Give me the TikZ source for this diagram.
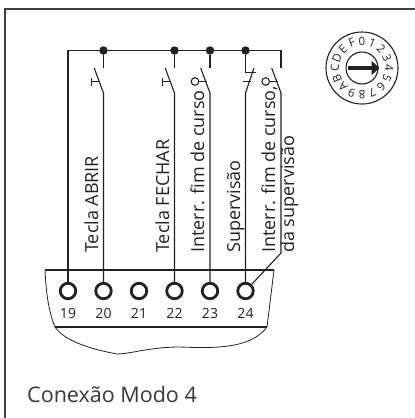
\documentclass[tikz,border=0pt]{standalone}
\usepackage{fontspec}
\setmainfont{Open Sans}
\usetikzlibrary{arrows.meta}
\definecolor{ink}{HTML}{222222}
\tikzset{
 x=1pt,y=-1pt,
 wire/.style={line width=1.1pt,draw=ink},
 strip/.style={line width=2.3pt,draw=ink},
 term/.style={circle,draw=ink,line width=2.8pt,minimum size=15.5pt,inner sep=0pt,fill=white},
 dot/.style={circle,fill=ink,minimum size=8.5pt,inner sep=0pt},
 tlabel/.style={font=\fontsize{14}{15}\selectfont,text=ink,inner sep=0pt},
 vlabel/.style={font=\fontsize{18}{19}\selectfont,text=ink,rotate=90,anchor=base west,inner sep=0pt},
 diallabel/.style={font=\fontsize{11.5}{12}\selectfont,text=ink,inner sep=0pt},
}
\begin{document}
\begin{tikzpicture}
\useasboundingbox (0,0) rectangle (415,418);
\draw[line width=1.4pt,draw=black!75] (5,418) -- (5,9) -- (415,9);
% terminals
\foreach \n/\x in {19/68,20/103.5,21/139,22/174.5,23/210,24/245.5}{
 \node[term] (t\n) at (\x,291) {};
 \node[tlabel] (n\n) at (\x,313) {\n};
}
% top bus
\coordinate (tl) at (68,50.5);
\coordinate (tr) at (281,50.5);
\node[dot] (d20) at (103.5,50.5) {};
\node[dot] (d22) at (174.5,50.5) {};
\node[dot] (d23) at (210,50.5) {};
\node[dot] (d24) at (245.5,50.5) {};
\draw[wire] (t19) -- (tl) -- (tr) -- (281,68);
\foreach \x/\n in {103.5/20,174.5/22,210/23}{
 \draw[wire] (d\n) -- (\x,68);
 \draw[wire] (\x-9.3,68) -- (\x,93) -- (t\n);
}
% push buttons
\foreach \x in {103.5,174.5}{
 \draw[wire] (\x-4.5,81.5) -- (\x-11.8,81.5);
 \draw[wire] (\x-11.8,77.5) -- (\x-11.8,85.5);
}
% limit switch on 23
\draw[wire] (207,81.5) -- (198.8,81.5);
\draw[wire] (195,81.5) circle (3.8);
% supervision (NC)
\draw[wire] (d24) -- (245.5,72.7) -- (256,72.7);
\draw[wire] (254,68) -- (245.5,93) -- (t24);
\draw[wire] (243,81.5) -- (250.5,81.5);
% limit switch of supervision
\draw[wire] (271.7,68) -- (281,93) -- (281,253) -- (t24);
\draw[wire] (277.5,81.5) -- (269.5,81.5);
\draw[wire] (265.7,81.5) circle (3.8);
% terminal strip
\draw[strip] (45,270) -- (274,270);
\draw[strip] (55,327) -- (267,327);
\draw[line width=0.8pt,draw=ink] (45,270) .. controls (46,290) and (48,310) .. (55,327)
  .. controls (65,342) and (95,350) .. (117,354) .. controls (130,354) and (150,347) .. (180,347)
  .. controls (210,348) and (250,350) .. (267,327) -- (274,270);
% labels
\node[vlabel] (l1) at (98,253) {Tecla ABRIR};
\node[vlabel] (l2) at (169,253) {Tecla FECHAR};
\node[vlabel] (l3) at (204,253) {Interr. fim de curso};
\node[vlabel] (l4) at (240,253) {Supervisão};
\node[vlabel] (l5) at (275,253) {Interr. fim de curso,};
\node[vlabel] (l6) at (294,253) {da supervisão};
% dial
\draw[wire] (362,68) circle (36);
\draw[wire] (362,68) circle (16);
\draw[line width=4.5pt,draw=ink,-{Triangle[length=8pt,width=14pt]}] (348,68) -- (379.5,68);
\foreach \c [count=\i from 0] in {0,1,2,3,4,5,6,7,8,9,A,B,C,D,E,F}{
 \pgfmathsetmacro\ang{90-22.5*\i}
 \node[diallabel,rotate=\ang-90] (c\i) at ({362+27*cos(\ang)},{68-27*sin(\ang)}) {\c};
}
\node[font=\fontsize{21.5}{22}\selectfont,text=ink!90,anchor=base west,inner sep=0pt] (cap) at (27,402) {Conexão Modo 4};
\end{tikzpicture}
\end{document}
